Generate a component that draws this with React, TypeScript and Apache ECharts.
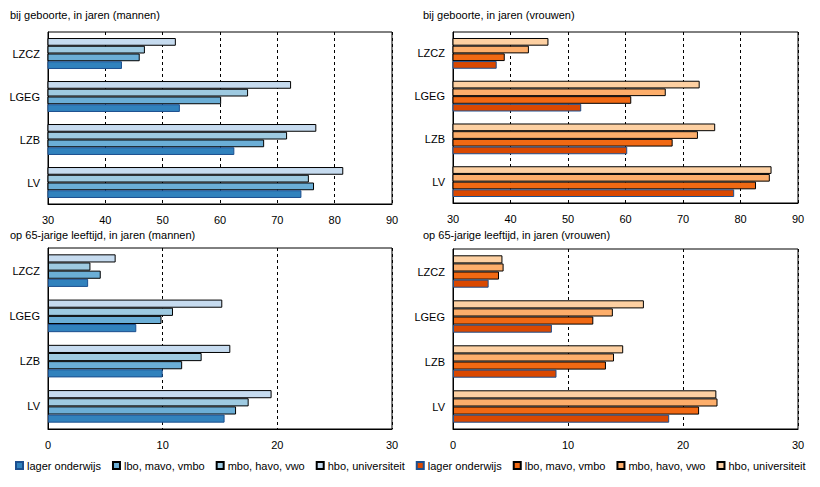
import React, { useEffect, useRef } from "react";
import * as echarts from "echarts";

const categories = ["LZCZ", "LGEG", "LZB", "LV"];
const levels = ["lager onderwijs", "lbo, mavo, vmbo", "mbo, havo, vwo", "hbo, universiteit"];

// values per level, in category order LZCZ, LGEG, LZB, LV
const menBirth = {
  lager: [42.9, 53.0, 62.5, 74.2],
  lbo: [46.0, 60.2, 67.7, 76.4],
  mbo: [46.9, 64.9, 71.7, 75.5],
  hbo: [52.3, 72.4, 76.8, 81.5],
};
const womenBirth = {
  lager: [37.6, 52.3, 60.3, 78.9],
  lbo: [39.0, 61.0, 68.2, 82.7],
  mbo: [43.2, 67.0, 72.6, 85.1],
  hbo: [46.6, 72.9, 75.6, 85.4],
};
const men65 = {
  lager: [3.5, 7.7, 10.0, 15.4],
  lbo: [4.6, 9.9, 11.7, 16.4],
  mbo: [3.7, 10.9, 13.4, 17.5],
  hbo: [5.9, 15.2, 15.9, 19.5],
};
const women65 = {
  lager: [3.1, 8.6, 9.0, 18.8],
  lbo: [4.0, 12.2, 13.3, 21.4],
  mbo: [4.4, 13.9, 14.0, 23.0],
  hbo: [4.3, 16.6, 14.8, 22.9],
};

const titles = [
  "bij geboorte, in jaren (mannen)",
  "bij geboorte, in jaren (vrouwen)",
  "op 65-jarige leeftijd, in jaren (mannen)",
  "op 65-jarige leeftijd, in jaren (vrouwen)",
];

const blueColors = { lager: "#3182bd", lbo: "#6baed6", mbo: "#9ecae1", hbo: "#c6dbef" };
const orangeColors = { lager: "#d94801", lbo: "#f16913", mbo: "#fdae6b", hbo: "#fdd0a2" };

const FONT = "Liberation Sans, Arial, sans-serif";

export default function App() {
  const ref = useRef<HTMLDivElement>(null);
  useEffect(() => {
    if (!ref.current) return;
    const chart = echarts.init(ref.current, null, { renderer: "svg" });

    const grids = [
      { left: 48, top: 32, width: 344, height: 172 },
      { left: 453, top: 32, width: 345, height: 171 },
      { left: 48, top: 248, width: 344, height: 181 },
      { left: 453, top: 249, width: 345, height: 180 },
    ].map((g) => ({ ...g, show: true, borderColor: "#000", borderWidth: 1, backgroundColor: "transparent" }));

    const xRanges = [
      [30, 90],
      [30, 90],
      [0, 30],
      [0, 30],
    ];

    const xAxis = xRanges.map((r, i) => ({
      type: "value",
      gridIndex: i,
      min: r[0],
      max: r[1],
      interval: 10,
      axisLine: { show: true, lineStyle: { color: "#000", width: 1 } },
      axisTick: { show: false },
      axisLabel: { color: "#000", fontSize: 11, fontFamily: FONT, margin: 10 },
      splitLine: { show: true, lineStyle: { color: "#000", type: [3, 3], width: 1 } },
    }));

    const yAxis = [0, 1, 2, 3].map((i) => ({
      type: "category",
      gridIndex: i,
      inverse: true,
      data: categories,
      axisLine: { show: true, lineStyle: { color: "#000", width: 1 } },
      axisTick: { show: false },
      axisLabel: { color: "#000", fontSize: 11, fontFamily: FONT, margin: 8 },
      splitLine: { show: false },
    }));

    const keys = ["hbo", "mbo", "lbo", "lager"] as const;
    const levelName: Record<string, string> = {
      lager: levels[0],
      lbo: levels[1],
      mbo: levels[2],
      hbo: levels[3],
    };
    const panels = [
      { data: menBirth, colors: blueColors, prefix: "m:" },
      { data: womenBirth, colors: orangeColors, prefix: "v:" },
      { data: men65, colors: blueColors, prefix: "m:" },
      { data: women65, colors: orangeColors, prefix: "v:" },
    ];

    const series: any[] = [];
    panels.forEach((p, i) => {
      keys.forEach((k) => {
        series.push({
          type: "bar",
          name: p.prefix + levelName[k],
          xAxisIndex: i,
          yAxisIndex: i,
          data: (p.data as any)[k],
          barGap: "0%",
          barCategoryGap: "28%",
          itemStyle: {
            color: (p.colors as any)[k],
            borderColor: k === "lager" ? "#1c4f8f" : "#000",
            borderWidth: 1,
          },
        });
      });
    });

    const legendData = [
      ...levels.map((l) => "m:" + l),
      ...levels.map((l) => "v:" + l),
    ];

    chart.setOption({
      animation: false,
      backgroundColor: "#fff",
      textStyle: { fontFamily: FONT },
      title: titles.map((t, i) => ({
        text: t,
        left: i % 2 === 0 ? 10 : 423,
        top: i < 2 ? 9 : 229,
        padding: 0,
        textStyle: { fontSize: 11, fontWeight: "normal", color: "#000", fontFamily: FONT },
      })),
      legend: {
        data: legendData,
        left: 15,
        top: 460,
        itemWidth: 7,
        itemHeight: 7,
        itemGap: 11,
        padding: 0,
        icon: "rect",
        formatter: (name: string) => name.replace(/^[mv]:/, ""),
        textStyle: { fontSize: 11, color: "#000", fontFamily: FONT, padding: [0, 0, 0, -1] },
      },
      grid: grids,
      xAxis,
      yAxis,
      series,
    });
    return () => chart.dispose();
  }, []);
  return (
    <div
      ref={ref}
      style={{ position: "fixed", left: 0, top: 0, width: 820, height: 487 }}
    />
  );
}
